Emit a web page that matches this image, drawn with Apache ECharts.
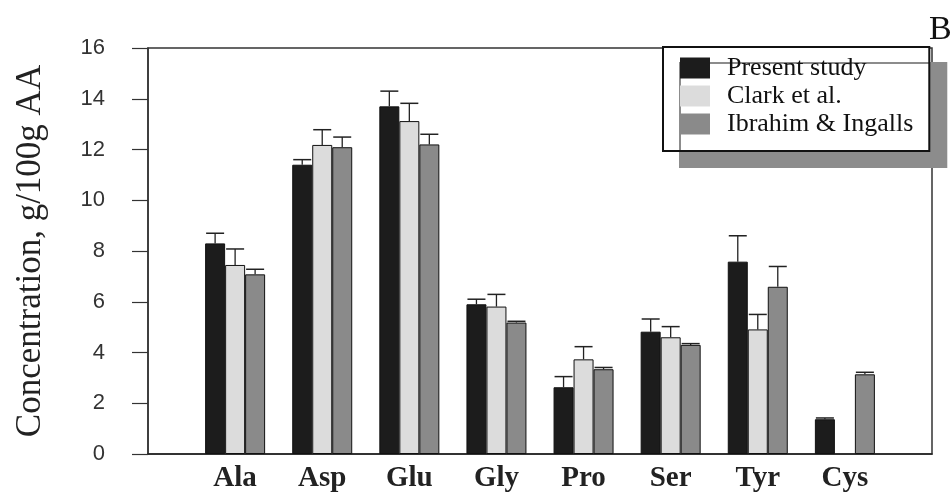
<!DOCTYPE html>
<html>
<head>
<meta charset="utf-8">
<script src="https://cdn.jsdelivr.net/npm/echarts@6/dist/echarts.min.js"></script>
<style>
  html, body { margin: 0; padding: 0; background: #fff; }
  #chart { width: 951px; height: 500px; }
</style>
</head>
<body>
<div id="chart"></div>
<script>
// amino acids on the x axis
var aminoAcids = ['Ala', 'Asp', 'Glu', 'Gly', 'Pro', 'Ser', 'Tyr', 'Cys']
var seriesNames = ['Present study', 'Clark et al.', 'Ibrahim & Ingalls']

// g/100g AA
var presentStudy = [8.3, 11.4, 13.7, 5.9, 2.63, 4.82, 7.58, 1.37]
var clarkEtAl = [7.45, 12.18, 13.12, 5.81, 3.73, 4.6, 4.91, null]
var ibrahimIngalls = [7.08, 12.09, 12.2, 5.18, 3.34, 4.3, 6.59, 3.14]

// upper error (SD) for each bar
var presentErr = [0.4, 0.2, 0.6, 0.2, 0.42, 0.5, 1.02, 0.05]
var clarkErr = [0.63, 0.6, 0.7, 0.48, 0.5, 0.42, 0.59, null]
var ibrahimErr = [0.2, 0.4, 0.4, 0.05, 0.07, 0.05, 0.8, 0.08]

var yTicks = { min: 0, max: 16, step: 2 }

var colors = ['#1c1c1c', '#dcdcdc', '#8a8a8a']
var barW = 20

// empty slots at both ends give the half-band margins of the original
var categories = [''].concat(aminoAcids, [''])
function pad (arr) { return [null].concat(arr, [null]) }

function errData (vals, errs) {
  var out = []
  vals.forEach(function (v, i) {
    if (v != null && errs[i] != null) out.push([i + 1, v, errs[i]])
  })
  return out
}

function errorSeries (vals, errs, k) {
  return {
    type: 'custom',
    name: seriesNames[k] + ' err',
    data: errData(vals, errs),
    encode: { x: 0, y: 1 },
    z: 5,
    silent: true,
    renderItem: function (params, api) {
      var base = api.coord([api.value(0), api.value(1)])
      var top = api.coord([api.value(0), api.value(1) + api.value(2)])
      var x = base[0] + (k - 1) * barW
      var half = barW / 2 - 1
      return {
        type: 'group',
        children: [
          { type: 'line', shape: { x1: x, y1: base[1], x2: x, y2: top[1] }, style: { stroke: '#222', lineWidth: 1.3 } },
          { type: 'line', shape: { x1: x - half, y1: top[1], x2: x + half, y2: top[1] }, style: { stroke: '#222', lineWidth: 1.5 } }
        ]
      }
    }
  }
}

var barValues = [presentStudy, clarkEtAl, ibrahimIngalls]
var errValues = [presentErr, clarkErr, ibrahimErr]

var series = []
barValues.forEach(function (vals, k) {
  series.push({
    type: 'bar',
    name: seriesNames[k],
    data: pad(vals),
    barWidth: barW,
    barGap: '0%',
    itemStyle: { color: colors[k], borderColor: '#111', borderWidth: 1 }
  })
})
barValues.forEach(function (vals, k) {
  series.push(errorSeries(vals, errValues[k], k))
})

var option = {
  animation: false,
  backgroundColor: '#fff',
  title: {
    text: 'B',
    left: 924,
    top: 8,
    textStyle: { fontFamily: 'Liberation Serif', fontWeight: 'normal', fontSize: 34, color: '#111' }
  },
  legend: {
    data: seriesNames,
    orient: 'vertical',
    left: 663,
    top: 47,
    itemWidth: 30,
    itemHeight: 21,
    itemGap: 2,
    padding: [8, 16, 14, 17],
    backgroundColor: '#fff',
    borderColor: '#111',
    borderWidth: 2,
    shadowColor: '#8c8c8c',
    shadowBlur: 0,
    shadowOffsetX: 17,
    shadowOffsetY: 16,
    icon: 'rect',
    itemStyle: { borderWidth: 0 },
    textStyle: { fontFamily: 'Liberation Serif', fontSize: 26, lineHeight: 26, color: '#111', padding: [0, 0, 0, 12] }
  },
  grid: {
    left: 148,
    right: 19,
    top: 48,
    bottom: 46,
    show: true,
    borderColor: '#333',
    borderWidth: 1.5
  },
  xAxis: {
    type: 'category',
    data: categories,
    boundaryGap: false,
    axisLine: { lineStyle: { color: '#222', width: 1.5 } },
    axisTick: { show: false },
    axisLabel: {
      interval: 0,
      margin: 10,
      fontFamily: 'Liberation Serif',
      fontWeight: 'bold',
      fontSize: 29,
      color: '#222'
    }
  },
  yAxis: {
    type: 'value',
    min: yTicks.min,
    max: yTicks.max,
    interval: yTicks.step,
    name: 'Concentration, g/100g AA',
    nameLocation: 'middle',
    nameGap: 100,
    nameTextStyle: { fontFamily: 'Liberation Serif', fontSize: 35, color: '#222' },
    axisLine: { show: true, lineStyle: { color: '#333', width: 1.5 } },
    axisTick: { show: true, inside: false, length: 16, lineStyle: { color: '#333', width: 1.2 } },
    splitLine: { show: false },
    axisLabel: { margin: 43, fontFamily: 'Liberation Sans', fontSize: 22, color: '#333' }
  },
  series: series
}

var myChart = echarts.init(document.getElementById('chart'))
myChart.setOption(option)
</script>
</body>
</html>
